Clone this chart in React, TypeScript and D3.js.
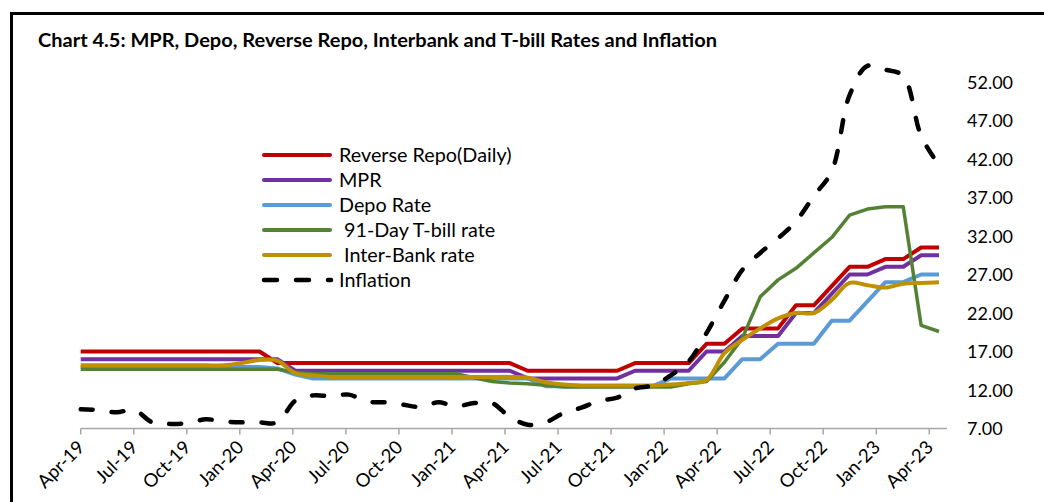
import React, { useEffect, useRef } from "react";
import * as d3 from "d3";

const W = 1044;
const H = 502;

const tickLabels = [
  "Apr-19", "Jul-19", "Oct-19", "Jan-20", "Apr-20", "Jul-20", "Oct-20", "Jan-21", "Apr-21",
  "Jul-21", "Oct-21", "Jan-22", "Apr-22", "Jul-22", "Oct-22", "Jan-23", "Apr-23",
];

// Monthly, Apr-19 .. Apr-23 (49 points)
const reverseRepo = [
  17, 17, 17, 17, 17, 17, 17, 17, 17, 17, 17,
  15.5, 15.5, 15.5, 15.5, 15.5, 15.5, 15.5, 15.5, 15.5, 15.5, 15.5, 15.5, 15.5, 15.5,
  14.5, 14.5, 14.5, 14.5, 14.5, 14.5,
  15.5, 15.5, 15.5, 15.5,
  18, 18, 20, 20, 20, 23, 23, 25.5, 28, 28, 29, 29, 30.5, 30.5,
];
const mpr = [
  16, 16, 16, 16, 16, 16, 16, 16, 16, 16, 16, 16,
  14.5, 14.5, 14.5, 14.5, 14.5, 14.5, 14.5, 14.5, 14.5, 14.5, 14.5, 14.5, 14.5,
  13.5, 13.5, 13.5, 13.5, 13.5, 13.5,
  14.5, 14.5, 14.5, 14.5,
  17, 17, 19, 19, 19, 22, 22, 24.5, 27, 27, 28, 28, 29.5, 29.5,
];
const depoRate = [
  15, 15, 15, 15, 15, 15, 15, 15, 15, 15, 15, 14.8, 14.0,
  13.5, 13.5, 13.5, 13.5, 13.5, 13.5, 13.5, 13.5, 13.5, 13.5, 13.5, 13.5, 13.5,
  12.5, 12.5, 12.5, 12.5, 12.5, 12.5, 12.5,
  13.5, 13.5, 13.5, 13.5,
  16, 16, 18, 18, 18, 21, 21, 23.5, 26, 26, 27, 27,
];
const tbill91 = [
  14.7, 14.7, 14.7, 14.7, 14.7, 14.7, 14.7, 14.7, 14.7, 14.7, 14.7, 14.7, 14.3,
  14.1, 14.1, 14.1, 14.1, 14.1, 14.1, 14.1, 14.1, 14.1,
  13.6, 13.1, 12.9, 12.8, 12.6,
  12.4, 12.4, 12.4, 12.4, 12.4, 12.4, 12.4,
  12.8, 13.1, 15.6, 18.7, 24.1, 26.3, 27.8, 29.8, 31.8, 34.7, 35.5, 35.8, 35.8, 20.4, 19.6,
];
const interbank = [
  15.2, 15.2, 15.2, 15.2, 15.2, 15.2, 15.2, 15.2, 15.2, 15.5, 15.9, 15.8, 14.2, 13.9,
  13.7, 13.7, 13.7, 13.7, 13.7, 13.7, 13.7, 13.7, 13.7, 13.7, 13.7,
  13.6, 13.0, 12.7, 12.6, 12.6, 12.6, 12.6, 12.6, 12.7, 12.9, 13.3,
  16.8, 18.5, 20.0, 21.3, 22.0, 22.0, 23.7, 25.9, 25.6, 25.3, 25.8, 25.9, 26.0,
];
const inflation = [
  9.5, 9.4, 9.1, 9.4, 7.8, 7.6, 7.7, 8.2, 7.9, 7.8, 7.8, 7.8,
  10.6, 11.3, 11.2, 11.4, 10.5, 10.4, 10.1, 9.8, 10.4,
  9.9, 10.3, 10.3, 8.5, 7.5, 7.8, 9.0, 9.7, 10.6, 11.0, 12.2, 12.6,
  13.9, 15.7, 19.4, 23.6, 27.6, 29.8, 31.7, 33.9, 37.2, 40.4, 50.3, 54.1,
  53.6, 52.8, 45.0, 41.2,
];

const yTicks = [7, 12, 17, 22, 27, 32, 37, 42, 47, 52];

const seriesNames = [
  "Reverse Repo(Daily)",
  "MPR",
  "Depo Rate",
  "91-Day T-bill rate",
  "Inter-Bank rate",
  "Inflation",
];
const seriesColors = ["#C00000", "#7030A0", "#5B9BD5", "#548235", "#BF9000", "#000000"];
const seriesValues = [reverseRepo, mpr, depoRate, tbill91, interbank, inflation];
const seriesIndent = [0, 0, 0, 5, 5, 0];

const FONT = "Lato, 'Open Sans', sans-serif";

export default function App() {
  const ref = useRef<SVGSVGElement | null>(null);

  useEffect(() => {
    const svg = d3.select(ref.current);
    svg.selectAll("*").remove();

    // frame
    svg
      .append("rect")
      .attr("x", 11.5)
      .attr("y", 13.5)
      .attr("width", 1100)
      .attr("height", 600)
      .attr("fill", "white")
      .attr("stroke", "#000")
      .attr("stroke-width", 3);

    // title
    svg
      .append("text")
      .attr("x", 38)
      .attr("y", 47)
      .attr("font-family", FONT)
      .attr("font-weight", 700)
      .attr("font-size", 18)
      .attr("textLength", 679)
      .attr("lengthAdjust", "spacingAndGlyphs")
      .attr("fill", "#000")
      .text("Chart 4.5: MPR, Depo, Reverse Repo, Interbank and T-bill Rates and Inflation");

    const n = inflation.length;
    const x = d3.scaleLinear().domain([0, n - 1]).range([80.7, 939]);
    const xAxisScale = d3.scaleLinear().domain([0, n - 1]).range([80.7, 929.3]);
    const y = d3.scaleLinear().domain([7, 52]).range([428.5, 82]);

    // x axis
    const axisY = y(7);
    svg
      .append("line")
      .attr("x1", 80.7)
      .attr("x2", 947)
      .attr("y1", axisY)
      .attr("y2", axisY)
      .attr("stroke", "#A6A6A6")
      .attr("stroke-width", 1.5);
    tickLabels.forEach((lab, j) => {
      const tx = xAxisScale(j * 3);
      svg
        .append("line")
        .attr("x1", tx)
        .attr("x2", tx)
        .attr("y1", axisY)
        .attr("y2", axisY + 6)
        .attr("stroke", "#A6A6A6")
        .attr("stroke-width", 1.5);
      svg
        .append("text")
        .attr("transform", `translate(${tx + 5},${axisY + 20}) rotate(-45)`)
        .attr("text-anchor", "end")
        .attr("font-family", FONT)
        .attr("font-size", 18.5)
        .attr("fill", "#000")
        .text(lab);
    });

    // y labels (right)
    const fmt = d3.format(".2f");
    yTicks.forEach((v) => {
      svg
        .append("text")
        .attr("x", 967)
        .attr("y", y(v) + 6.5)
        .attr("font-family", FONT)
        .attr("font-size", 18)
        .attr("fill", "#000")
        .text(fmt(v));
    });

    // series
    seriesValues.forEach((vals, k) => {
      const isInfl = k === 5;
      const smooth = k === 4 || k === 5;
      const line = d3
        .line<number>()
        .x((_, i) => x(i))
        .y((v) => y(v))
        .curve(smooth ? d3.curveCatmullRom.alpha(0.5) : d3.curveLinear);
      const p = svg
        .append("path")
        .attr("d", line(vals) || "")
        .attr("fill", "none")
        .attr("stroke", seriesColors[k])
        .attr("stroke-width", isInfl ? 4.5 : k === 3 ? 3.5 : 4)
        .attr("stroke-linejoin", "round");
      if (isInfl) {
        p.attr("stroke-dasharray", "12,19").attr("stroke-linecap", "round");
      }
    });

    // legend
    const ly0 = 155;
    const lstep = 25;
    seriesNames.forEach((name, k) => {
      const ly = ly0 + k * lstep;
      const l = svg
        .append("line")
        .attr("x1", 264)
        .attr("x2", k === 5 ? 331 : 330)
        .attr("y1", ly)
        .attr("y2", ly)
        .attr("stroke", seriesColors[k])
        .attr("stroke-width", k === 5 ? 4.5 : 4)
        .attr("stroke-linecap", "round");
      if (k === 5) l.attr("stroke-dasharray", "13,19");
      svg
        .append("text")
        .attr("x", 339 + seriesIndent[k])
        .attr("y", ly + 6.5)
        .attr("font-family", FONT)
        .attr("font-size", 19.8)
        .attr("fill", "#000")
        .text(name);
    });
  }, []);

  return (
    <div style={{ position: "absolute", left: 0, top: 0 }}>
      <svg ref={ref} width={W} height={H} style={{ display: "block" }} />
    </div>
  );
}
